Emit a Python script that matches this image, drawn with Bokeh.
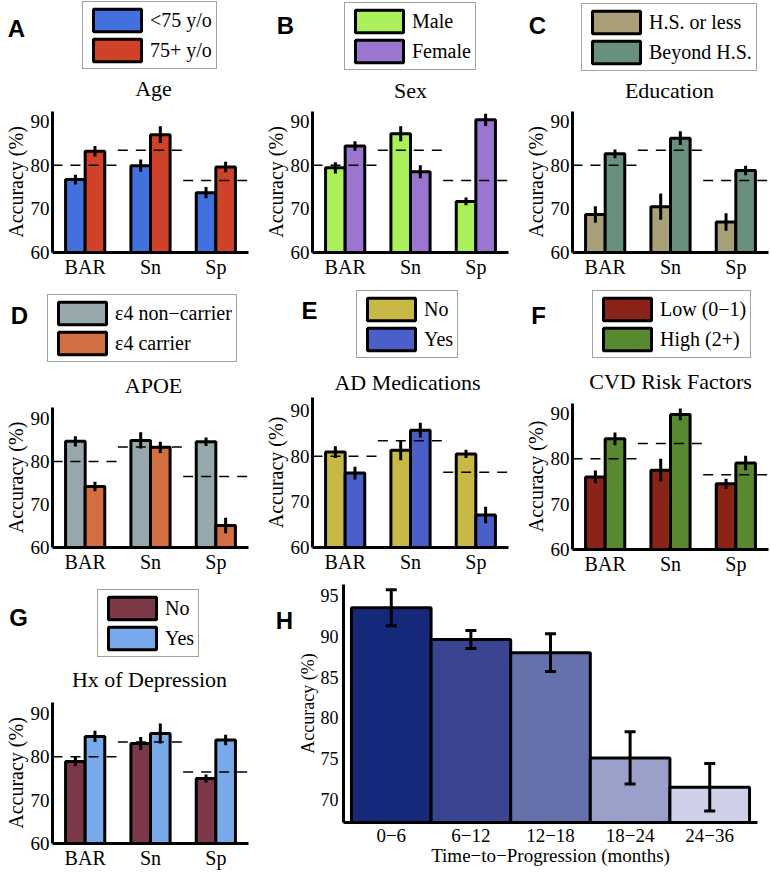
from bokeh.plotting import figure
from bokeh.models import (FactorRange, Range1d, ColumnDataSource, Legend, LegendItem,
                          Label, Whisker, TeeHead, FixedTicker)
from bokeh.transform import dodge
from bokeh.layouts import column, row
from bokeh.embed import file_html
from bokeh.resources import INLINE

# ---------------- data ----------------
groups = ["BAR", "Sn", "Sp"]
overall = [80.0, 83.4, 76.5]
yticks_small = [60, 70, 80, 90]

age_labels = ["<75 y/o", "75+ y/o"]
age_lt75 = [76.7, 79.9, 73.7]
age_lt75_err = [1.1, 1.4, 1.3]
age_ge75 = [83.2, 87.0, 79.6]
age_ge75_err = [1.2, 1.9, 1.2]

sex_labels = ["Male", "Female"]
sex_male = [79.4, 87.2, 71.7]
sex_male_err = [1.3, 1.7, 0.9]
sex_female = [84.4, 78.5, 90.4]
sex_female_err = [1.1, 1.5, 1.4]

edu_labels = ["H.S. or less", "Beyond H.S."]
edu_hs = [68.7, 70.5, 67.0]
edu_hs_err = [1.9, 3.0, 2.0]
edu_beyond = [82.6, 86.2, 78.8]
edu_beyond_err = [1.0, 1.6, 1.1]

apoe_labels = ["\u03b54 non\u2212carrier", "\u03b54 carrier"]
apoe_non = [84.7, 84.9, 84.6]
apoe_non_err = [1.2, 1.9, 1.0]
apoe_carrier = [74.2, 83.3, 65.1]
apoe_carrier_err = [1.1, 1.3, 1.8]

med_labels = ["No", "Yes"]
med_no = [80.9, 81.3, 80.5]
med_no_err = [1.3, 2.2, 0.9]
med_yes = [76.3, 85.7, 67.1]
med_yes_err = [1.4, 1.6, 1.8]

cvd_labels = ["Low (0\u22121)", "High (2+)"]
cvd_low = [76.0, 77.5, 74.5]
cvd_low_err = [1.4, 2.5, 1.1]
cvd_high = [84.4, 89.8, 79.1]
cvd_high_err = [1.4, 1.3, 1.6]

dep_labels = ["No", "Yes"]
dep_no = [78.9, 83.1, 75.0]
dep_no_err = [1.1, 1.5, 0.9]
dep_yes = [84.7, 85.4, 83.9]
dep_yes_err = [1.3, 2.3, 1.2]

ttp_labels = ["0\u22126", "6\u221212", "12\u221218", "18\u221224", "24\u221236"]
ttp_acc = [93.5, 89.6, 88.0, 75.1, 71.5]
ttp_err = [2.2, 1.1, 2.3, 3.2, 2.9]
ttp_colors = ["#16287a", "#3a4491", "#6670aa", "#9ba0ca", "#cdd0e6"]
ttp_yticks = [70, 75, 80, 85, 90, 95]

SERIF = "Liberation Serif"
SANS = "Liberation Sans"


def base_fig(w, h, x_range, y_range, L, R, T, B, **kw):
    return figure(width=w, height=h, x_range=x_range, y_range=y_range,
                  output_backend="svg", toolbar_location=None, title=None,
                  min_border_left=L, min_border_right=R,
                  min_border_top=T, min_border_bottom=B,
                  outline_line_color=None, frame_align=False, **kw)


def style_axes(p, xsize, ysize, lsize, xstand=4, ystand=4, lstand=3):
    for ax in (p.xaxis[0], p.yaxis[0]):
        ax.axis_line_width = 3
        ax.axis_line_color = "black"
        ax.major_tick_in = 0
        ax.major_tick_out = 0
        ax.minor_tick_in = 0
        ax.minor_tick_out = 0
        ax.major_tick_line_color = None
        ax.minor_tick_line_color = None
        ax.major_label_text_font = SERIF
        ax.major_label_text_color = "black"
        ax.axis_label_text_font = SERIF
        ax.axis_label_text_font_style = "normal"
        ax.axis_label_text_color = "black"
        ax.axis_label_standoff = lstand
    p.xaxis[0].major_label_text_font_size = xsize
    p.yaxis[0].major_label_text_font_size = ysize
    p.xaxis[0].major_label_standoff = xstand
    p.yaxis[0].major_label_standoff = ystand
    p.yaxis[0].axis_label_text_font_size = lsize
    p.xaxis[0].axis_label_text_font_size = lsize
    p.xgrid.visible = False
    p.ygrid.visible = False


def letter_label(x, y, letter):
    return Label(x=x, y=y, text=letter, text_align="center", text_baseline="middle",
                 text_font=SANS, text_font_style="bold", text_font_size="24px",
                 text_color="black")


def header(w, h, labels, v1, v2, c1, c2, leg_loc, title, title_xy, letter, letter_xy):
    f = base_fig(w, h, Range1d(0, w), Range1d(0, h), 0, 0, 0, 0,
                 x_axis_type=None, y_axis_type=None)
    # hidden proxies (same series) that only supply the legend swatches
    idx = list(range(len(v1)))
    d1 = f.vbar(x=idx, top=v1, width=0.3, fill_color=c1, line_color="black",
                line_width=3, visible=False)
    d2 = f.vbar(x=idx, top=v2, width=0.3, fill_color=c2, line_color="black",
                line_width=3, visible=False)
    legend = Legend(items=[LegendItem(label=labels[0], renderers=[d1], index=0),
                           LegendItem(label=labels[1], renderers=[d2], index=0)],
                    location=leg_loc, orientation="vertical",
                    glyph_width=60, glyph_height=28, label_standoff=3,
                    padding=4, spacing=2, margin=0,
                    label_text_font=SERIF, label_text_font_size="20px",
                    label_text_color="black",
                    inactive_fill_alpha=0,
                    border_line_color="#444444", border_line_width=1,
                    background_fill_color="white", background_fill_alpha=1)
    f.add_layout(legend, "center")
    f.add_layout(Label(x=title_xy[0], y=title_xy[1], text=title,
                       text_align="center", text_baseline="middle",
                       text_font=SERIF, text_font_size="22px", text_color="black"))
    f.add_layout(letter_label(letter_xy[0], letter_xy[1], letter))
    return f


def chart(v1, e1, v2, e2, c1, c2, yend, w, h, borders):
    L, R, T, B = borders
    p = base_fig(w, h, FactorRange(factors=groups), Range1d(60, yend), L, R, T, B)
    src = ColumnDataSource(dict(
        group=groups, v1=v1, v2=v2,
        lo1=[a - b for a, b in zip(v1, e1)], hi1=[a + b for a, b in zip(v1, e1)],
        lo2=[a - b for a, b in zip(v2, e2)], hi2=[a + b for a, b in zip(v2, e2)],
        overall=overall))
    p.vbar(x=dodge("group", -0.15, range=p.x_range), top="v1", bottom=0,
           width=0.3, source=src, fill_color=c1, line_color="black", line_width=3)
    p.vbar(x=dodge("group", 0.15, range=p.x_range), top="v2", bottom=0,
           width=0.3, source=src, fill_color=c2, line_color="black", line_width=3)
    p.segment(x0=dodge("group", -0.5, range=p.x_range), y0="overall",
              x1=dodge("group", 0.5, range=p.x_range), y1="overall",
              source=src, line_color="black", line_width=1.5, line_dash="10 8")
    p.segment(x0=dodge("group", -0.15, range=p.x_range), y0="lo1",
              x1=dodge("group", -0.15, range=p.x_range), y1="hi1",
              source=src, line_color="black", line_width=3)
    p.segment(x0=dodge("group", 0.15, range=p.x_range), y0="lo2",
              x1=dodge("group", 0.15, range=p.x_range), y1="hi2",
              source=src, line_color="black", line_width=3)
    p.yaxis.ticker = FixedTicker(ticks=yticks_small)
    p.yaxis.axis_label = "Accuracy (%)"
    style_axes(p, "20px", "19px", "20px", xstand=3, ystand=3, lstand=1)
    return p


# ---------------- row 1 (y 0-288) ----------------
hA = header(258, 107, age_labels, age_lt75, age_ge75, "#4270dd", "#cf4128",
            (82, 38), "Age", (153, 19), "A", (16, 79))
pA = chart(age_lt75, age_lt75_err, age_ge75, age_ge75_err, "#4270dd", "#cf4128",
           92.3, 258, 181, (52, 10, 4, 36))
hB = header(254, 107, sex_labels, sex_male, sex_female, "#aaf05a", "#9b76d0",
            (86, 37), "Sex", (152, 17), "B", (27, 82))
pB = chart(sex_male, sex_male_err, sex_female, sex_female_err, "#aaf05a", "#9b76d0",
           92.3, 254, 181, (54, 4, 4, 36))
hC = header(258, 107, edu_labels, edu_hs, edu_beyond, "#a9a07a", "#68907c",
            (69, 36), "Education", (157, 17), "C", (25, 82))
pC = chart(edu_hs, edu_hs_err, edu_beyond, edu_beyond_err, "#a9a07a", "#68907c",
           92.3, 258, 181, (60, 2, 4, 36))

# ---------------- row 2 (y 288-578) ----------------
hD = header(258, 115, apoe_labels, apoe_non, apoe_carrier, "#96a8ac", "#d26e42",
            (47, 41), "APOE", (153, 18), "D", (19, 88))
pD = chart(apoe_non, apoe_non_err, apoe_carrier, apoe_carrier_err, "#96a8ac", "#d26e42",
           92.56, 258, 175, (52, 10, 4, 31))
hE = header(254, 107, med_labels, med_no, med_yes, "#c8b946", "#4b5fc8",
            (98, 37), "AD Medications", (149, 13), "E", (51, 85))
pE = chart(med_no, med_no_err, med_yes, med_yes_err, "#c8b946", "#4b5fc8",
           92.85, 254, 183, (54, 4, 2, 31))
hF = header(258, 111, cvd_labels, cvd_low, cvd_high, "#8a2418", "#588830",
            (80, 41), "CVD Risk Factors", (158, 18), "F", (26, 84))
pF = chart(cvd_low, cvd_low_err, cvd_high, cvd_high_err, "#8a2418", "#588830",
           92.2, 258, 179, (60, 2, 4, 29))

# ---------------- row 3 (y 578-872) ----------------
hG = header(258, 120, dep_labels, dep_no, dep_yes, "#7a3848", "#78aaeb",
            (97, 41), "Hx of Depression", (149, 19), "G", (18, 81))
pG = chart(dep_no, dep_no_err, dep_yes, dep_yes_err, "#7a3848", "#78aaeb",
           92.54, 258, 174, (52, 10, 4, 29))

hH = base_fig(36, 294, Range1d(0, 36), Range1d(0, 294), 0, 0, 0, 0,
              x_axis_type=None, y_axis_type=None)
hH.add_layout(letter_label(26, 252, "H"))

xs = list(range(1, len(ttp_labels) + 1))
pH = base_fig(476, 294, Range1d(0.4, 5.6), Range1d(67.18, 96.35), 45, 13, 6, 50)
srch = ColumnDataSource(dict(
    x=xs, acc=ttp_acc, color=ttp_colors,
    lo=[a - b for a, b in zip(ttp_acc, ttp_err)],
    hi=[a + b for a, b in zip(ttp_acc, ttp_err)]))
pH.vbar(x="x", top="acc", bottom=0, width=1.0, source=srch,
        fill_color="color", line_color="black", line_width=3)
pH.add_layout(Whisker(source=srch, base="x", upper="hi", lower="lo", level="annotation",
                      line_width=3, line_color="black",
                      upper_head=TeeHead(size=11, line_width=3, line_color="black"),
                      lower_head=TeeHead(size=11, line_width=3, line_color="black")))
pH.xaxis.ticker = FixedTicker(ticks=xs)
pH.xaxis.major_label_overrides = {x: l for x, l in zip(xs, ttp_labels)}
pH.yaxis.ticker = FixedTicker(ticks=ttp_yticks)
pH.yaxis.axis_label = "Accuracy (%)"
pH.xaxis.axis_label = "Time\u2212to\u2212Progression (months)"
style_axes(pH, "19px", "18px", "19px", xstand=6, ystand=5, lstand=0)
pH.yaxis[0].axis_label_text_font_size = "18px"

layout = column(
    row(column(hA, pA), column(hB, pB), column(hC, pC)),
    row(column(hD, pD), column(hE, pE), column(hF, pF)),
    row(column(hG, pG), hH, pH),
)

open("out.html", "w").write(file_html(layout, INLINE))
